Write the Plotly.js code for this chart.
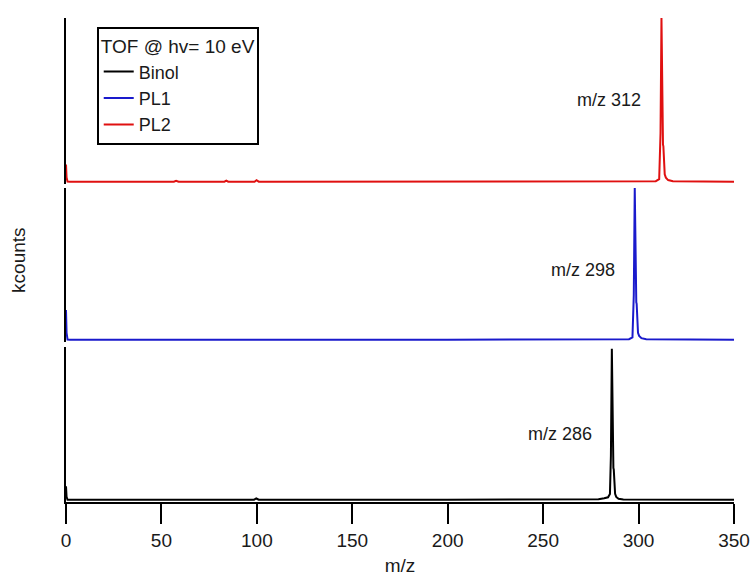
<!DOCTYPE html>
<html>
<head>
<meta charset="utf-8">
<script src="https://cdn.plot.ly/plotly-3.0.1.min.js"></script>
<style>html,body{margin:0;padding:0;background:#fff}#chart{width:753px;height:579px}</style>
</head>
<body>
<div id="chart"></div>
<script>
// Binol (bottom panel, black)
const binolMz = [0, 0.3, 0.8, 2, 56, 57.5, 59, 98.5, 99.7, 101, 200, 270, 279, 282, 284, 285, 285.5, 286, 286.5, 286.8, 287, 287.3, 287.7, 288.3, 289.5, 292, 350];
const binolCounts = [10, 3, 1.2, 1.2, 1.2, 1.4, 1.2, 1.2, 2.0, 1.2, 1.2, 1.2, 1.5, 2.2, 2.8, 5, 30, 100, 30, 22, 21, 10, 5, 3, 1.8, 1.3, 1.2];
// PL1 (middle panel, blue)
const pl1Mz = [0, 0.3, 0.8, 2, 200, 290, 295, 296.8, 297.5, 298, 298.5, 298.8, 299, 299.3, 299.7, 300.3, 301.5, 304, 350];
const pl1Counts = [20, 5, 0.6, 0.5, 0.5, 0.5, 0.8, 2, 30, 100, 30, 25, 24, 10, 5, 3, 1.5, 0.8, 0.5];
// PL2 (top panel, red)
const pl2Mz = [0, 0.3, 0.8, 2, 56.5, 57.7, 59, 83, 84, 85, 98.8, 99.8, 101, 200, 300, 309, 310.8, 311.5, 312, 312.5, 312.8, 313, 313.3, 313.7, 314.3, 315.5, 318, 350];
const pl2Counts = [11, 3, 0.6, 0.5, 0.5, 1.1, 0.5, 0.5, 1.1, 0.5, 0.5, 1.4, 0.5, 0.5, 0.5, 0.8, 2, 30, 100, 30, 23, 22, 10, 5, 3, 1.5, 0.8, 0.5];

const seriesNames = ["Binol", "PL1", "PL2"];
const seriesColors = ["#000000", "#1a1acc", "#e01010"];
const peakMz = [286, 298, 312];
const peakLabels = ["m/z 286", "m/z 298", "m/z 312"];
const labelHeights = [44, 46, 50];
const xTicks = [0, 50, 100, 150, 200, 250, 300, 350];
const legendTitle = "TOF @ hv= 10 eV";

const fam = "Arial, 'Liberation Sans', sans-serif";
const font = {family: fam, size: 19, color: "#1a1a1a"};
const itemFont = {family: fam, size: 18, color: "#1a1a1a"};
const annFont = {family: fam, size: 18, color: "#1a1a1a"};

const xs = [binolMz, pl1Mz, pl2Mz];
const ys = [binolCounts, pl1Counts, pl2Counts];
const yaxRefs = ["y", "y2", "y3"];

const traces = seriesNames.map((n, i) => ({
  type: "scatter", mode: "lines", name: n,
  x: xs[i], y: ys[i], xaxis: "x", yaxis: yaxRefs[i],
  line: {color: seriesColors[i], width: 2}
}));

const yBase = {
  showline: true, linecolor: "#000", linewidth: 2, showticklabels: false,
  ticks: "", showgrid: false, zeroline: false, anchor: "x", fixedrange: true
};

const annotations = peakLabels.map((t, i) => ({
  text: t, x: peakMz[i], y: labelHeights[i], xref: "x", yref: yaxRefs[i],
  xanchor: "right", yanchor: "middle", xshift: -18, showarrow: false,
  font: annFont
}));
annotations.push({
  text: "kcounts", textangle: -90, xref: "paper", yref: "paper",
  x: -0.072, y: 0.5, xanchor: "center", yanchor: "middle", showarrow: false,
  font: font
});

const layout = {
  width: 753, height: 579,
  margin: {l: 66, r: 19, t: 18, b: 77},
  paper_bgcolor: "#fff", plot_bgcolor: "#fff",
  font: font,
  showlegend: true,
  legend: {
    x: 0.046, y: 0.982, xanchor: "left", yanchor: "top",
    bgcolor: "#fff", bordercolor: "#000", borderwidth: 2,
    title: {text: legendTitle, font: font, side: "top"},
    font: itemFont, traceorder: "normal", tracegroupgap: 0
  },
  xaxis: {
    range: [0, 350], tickvals: xTicks, ticktext: xTicks.map(String),
    ticks: "outside", ticklen: 20, tickwidth: 2, tickcolor: "#000",
    ticklabelstandoff: 0,
    showline: true, linecolor: "#000", linewidth: 2,
    showgrid: false, zeroline: false, anchor: "y",
    title: {text: "m/z", font: font, standoff: 9},
    tickfont: font
  },
  yaxis: Object.assign({}, yBase, {domain: [0, 0.32], range: [-0.3, 101]}),
  yaxis2: Object.assign({}, yBase, {domain: [0.331, 0.649], range: [-0.9, 100]}),
  yaxis3: Object.assign({}, yBase, {domain: [0.657, 1], range: [-0.9, 100]}),
  annotations: annotations
};

Plotly.newPlot("chart", traces, layout, {displayModeBar: false, staticPlot: true});
</script>
</body>
</html>
